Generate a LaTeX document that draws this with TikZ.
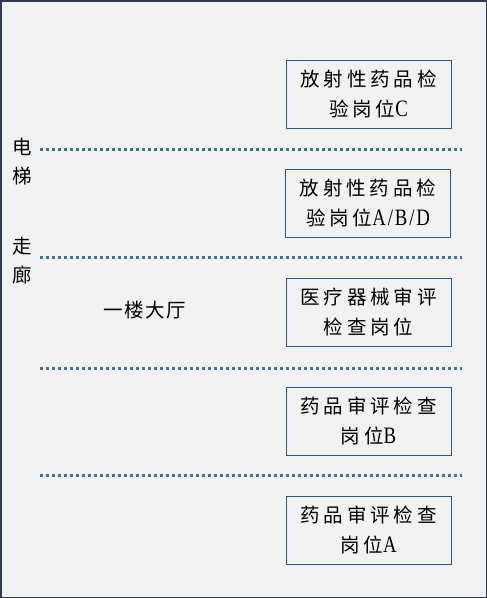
\documentclass[tikz,border=0pt]{standalone}
\usepackage{fontspec}
\setmainfont{Noto Sans CJK SC}
\newfontfamily\latinfont[FakeStretch=0.8, LetterSpace=8]{Liberation Serif}
\definecolor{framecol}{HTML}{2E3B4E}
\definecolor{boxcol}{HTML}{2F5597}
\definecolor{dotcol}{HTML}{41719C}
\definecolor{bgcol}{HTML}{F2F2F2}
\newcommand{\lat}[1]{{\latinfont\fontsize{23.5}{30}\selectfont #1}}

\begin{document}
\begin{tikzpicture}[x=1pt, y=-1pt, thick,
	post/.style={draw=boxcol, line width=1pt, minimum width=165pt, minimum height=68pt, align=center, inner sep=0pt, font=\fontsize{19.5}{30}\selectfont\addfontfeature{LetterSpace=20}},
	lbl/.style={align=center, inner sep=0pt, font=\fontsize{19.5}{29}\selectfont},
	sep/.style={dotcol, line width=3pt, dash pattern=on 3pt off 3pt}]
		\useasboundingbox (0,0) rectangle (487,598);
		\draw[framecol, fill=bgcol, line width=1.5pt] (0.75,0.75) rectangle (486.25,597.25);

		\node[post] (c) at (368.5,94) {放射性药品检\\验岗位\lat{C}};
		\node[post] (abd) at (368,203) {放射性药品检\\验岗位\lat{A/B/D}};
		\node[post] (qx) at (368.5,312) {医疗器械审评\\检查岗位};
		\node[post] (b) at (368.5,421) {药品审评检查\\岗位\lat{B}};
		\node[post] (a) at (368.5,530) {药品审评检查\\岗位\lat{A}};

		\node[lbl] (dt) at (22,162) {电\\梯};
		\node[lbl] (zl) at (22,261) {走\\廊};
		\node[lbl, font=\fontsize{19.5}{24}\selectfont\addfontfeature{LetterSpace=8}] (dt2) at (145,310) {一楼大厅};

		\draw[sep] (40,149) -- (462,149);
		\draw[sep] (40,257) -- (462,257);
		\draw[sep] (40,368) -- (462,368);
		\draw[sep] (40,475) -- (462,475);
	\end{tikzpicture}
\end{document}
